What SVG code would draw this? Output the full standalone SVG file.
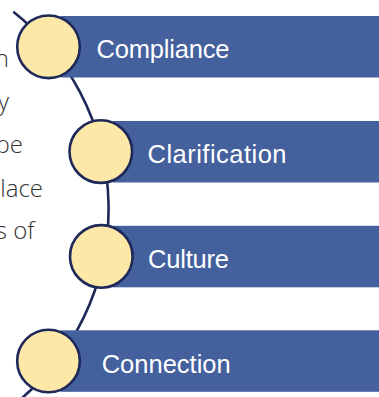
<svg xmlns="http://www.w3.org/2000/svg" width="379" height="397" viewBox="0 0 379 397">
  <style>
    .bar { fill: #44619E; }
    .dot { fill: #FEE8A8; stroke: #1E2859; stroke-width: 2.6; }
    .lbl { fill: #FFFFFF; font-family: "Liberation Sans", Arial, sans-serif; font-size: 25.5px; }
    .body { fill: #333333; font-family: "Open Sans", "Noto Sans", sans-serif; font-weight: 300; font-size: 24px; text-anchor: end; }
    .arc { fill: none; stroke: #1E2859; stroke-width: 2.6; }
  </style>
  <rect width="379" height="397" fill="#FFFFFF"/>
  <g id="body-text">
    <text class="body" x="9" y="66.7">n</text>
    <text class="body" x="9" y="109.5">y</text>
    <text class="body" x="23" y="153">be</text>
    <text class="body" x="43" y="196.5">lace</text>
    <text class="body" x="34.5" y="239">s of</text>
  </g>
  <g id="connectors">
    <path class="arc" d="M 13.3 11.7 A 250.8 250.8 0 0 1 19.7 400"/>
  </g>
  <g id="compliance">
    <rect class="bar" x="60.5" y="16" width="318.5" height="61.5"/>
    <circle class="dot" cx="48.5" cy="46.8" r="31.3"/>
    <text class="lbl" x="96.5" y="58.3" textLength="133">Compliance</text>
  </g>
  <g id="clarification">
    <rect class="bar" x="113" y="121" width="266" height="61.5"/>
    <circle class="dot" cx="100.8" cy="151.6" r="31.3"/>
    <text class="lbl" x="147.5" y="163.3" textLength="139">Clarification</text>
  </g>
  <g id="culture">
    <rect class="bar" x="113" y="225.8" width="266" height="61.5"/>
    <circle class="dot" cx="101.3" cy="256.4" r="31.3"/>
    <text class="lbl" x="148" y="268.3" textLength="81">Culture</text>
  </g>
  <g id="connection">
    <rect class="bar" x="60.5" y="330.3" width="318.5" height="61.5"/>
    <circle class="dot" cx="48.5" cy="361" r="31.3"/>
    <text class="lbl" x="101.7" y="372.7" textLength="129">Connection</text>
  </g>
</svg>
